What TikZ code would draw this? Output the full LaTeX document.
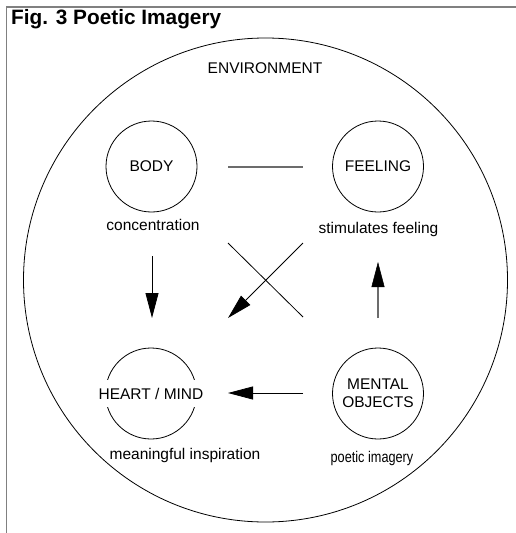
\documentclass[tikz,border=0pt]{standalone}
\usepackage{fontspec}
\setmainfont{Liberation Sans}
\newfontfamily\narrowfont[FakeStretch=0.82]{Liberation Sans}
\usetikzlibrary{arrows.meta}
\begin{document}
\begin{tikzpicture}[x=1pt,y=-1pt,
  frameline/.style={draw=gray,line width=1.5pt},
  ring/.style={circle,draw=black,line width=0.8pt,minimum size=91pt,inner sep=0pt},
  lbl/.style={font=\fontsize{15.5}{17}\selectfont,inner sep=1pt},
  thinline/.style={draw=black,line width=0.8pt},
  grayline/.style={draw=gray!85!black,line width=1.3pt},
  bigarrow/.style={-{Triangle[length=25pt,width=13pt]}}
]
\useasboundingbox (0,0) rectangle (516,533);
% frame
\coordinate (fTL) at (6.5,7);
\coordinate (fTR) at (516,7);
\coordinate (fBL) at (6.5,533);
\draw[frameline] (fBL) -- (fTL) -- (fTR);
\node[anchor=west,inner sep=0pt,font=\bfseries\fontsize{20.8}{24}\selectfont] (title) at (11,19) {Fig. 3 Poetic Imagery};
% environment
\node[circle,draw=black,line width=0.8pt,minimum size=484pt,inner sep=0pt] (env) at (265.5,280) {};
\node[lbl] (envtxt) at (265,68) {ENVIRONMENT};
% small circles
\node[ring] (body) at (151.5,166.5) {};
\node[ring] (feel) at (378,166.5) {};
\node[ring] (heart) at (151,393.5) {};
\node[ring] (ment) at (378,393.5) {};
\node[lbl] at (body) {BODY};
\node[lbl] at (feel) {FEELING};
\node[lbl,fill=white,inner xsep=1pt,inner ysep=8pt] at (heart) {HEART / MIND};
\node[lbl,align=center,font=\fontsize{15.5}{18}\selectfont] at (ment) {MENTAL\\OBJECTS};
\node[lbl] (c1) at (153,225) {concentration};
\node[lbl] (c2) at (378.5,229) {stimulates feeling};
\node[lbl] (c3) at (185,455) {meaningful inspiration};
\node[lbl,font=\narrowfont\fontsize{15.5}{17}\selectfont] (c4) at (372,458) {poetic imagery};
% connectors
\coordinate (h1) at (228,167);
\coordinate (h2) at (303,167);
\draw[grayline] (h1) -- (h2);
\coordinate (d1) at (152,256);
\coordinate (d2) at (152,318);
\draw[thinline,bigarrow] (d1) -- (d2);
\coordinate (x1) at (228,243);
\coordinate (x2) at (303,317);
\draw[thinline] (x1) -- (x2);
\coordinate (y1) at (303,243);
\coordinate (y2) at (228,318);
\draw[thinline,bigarrow] (y1) -- (y2);
\coordinate (u1) at (378,318);
\coordinate (u2) at (378,262);
\draw[grayline,-{Triangle[length=25pt,width=13pt,color=black,line width=0.5pt]}] (u1) -- (u2);
\coordinate (l1) at (303,393);
\coordinate (l2) at (228,393);
\draw[thinline,bigarrow] (l1) -- (l2);
\end{tikzpicture}
\end{document}
